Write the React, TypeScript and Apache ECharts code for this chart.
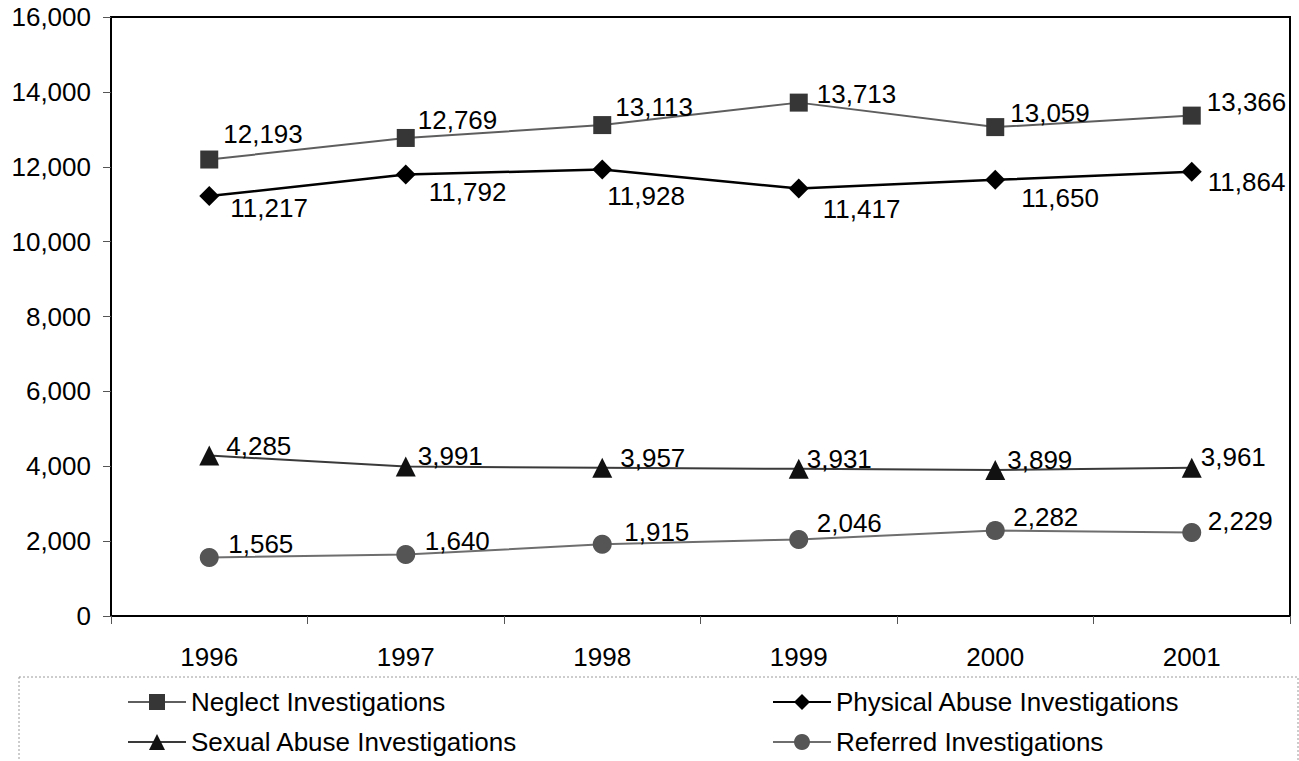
import React, { useEffect, useRef } from "react";
import * as echarts from "echarts";

const years = ["1996", "1997", "1998", "1999", "2000", "2001"];
const neglect = [12193, 12769, 13113, 13713, 13059, 13366];
const physical = [11217, 11792, 11928, 11417, 11650, 11864];
const sexual = [4285, 3991, 3957, 3931, 3899, 3961];
const referred = [1565, 1640, 1915, 2046, 2282, 2229];

// label offsets from the point centre (dx, dy) in pixels
const neglectOff = [[14, -26], [12, -18], [13, -18], [18, -9], [15, -14], [15, -14]];
const physicalOff = [[21, 12], [23, 17], [5, 27], [24, 20], [26, 18], [16, 10]];
const sexualOff = [[17, -10], [12, -11], [18, -10], [8, -10], [12, -10], [9, -11]];
const referredOff = [[19, -13], [19, -14], [22, -12], [18, -16], [18, -14], [16, -12]];

const FONT = "'Liberation Sans', Arial, sans-serif";
const fmt = (v: number) => v.toLocaleString("en-US");

function buildData(vals: number[], offs: number[][], half: number) {
  return vals.map((v, i) => ({
    value: v,
    label: { offset: [offs[i][0] - half, offs[i][1]] },
  }));
}

function legendItem(name: string, left: number, top: number) {
  return {
    data: [name],
    orient: "horizontal",
    left,
    top,
    padding: 0,
    itemWidth: 58,
    itemHeight: 20,
    itemGap: 0,
    textStyle: { color: "#000", fontSize: 26, fontFamily: FONT },
  };
}

export default function App() {
  const ref = useRef<HTMLDivElement>(null);
  useEffect(() => {
    if (!ref.current) return;
    const chart = echarts.init(ref.current, undefined, { renderer: "svg" });
    const labelBase = {
      show: true,
      position: "right" as const,
      distance: 0,
      color: "#000",
      fontSize: 26,
      fontFamily: FONT,
      formatter: (p: any) => fmt(p.value),
    };
    chart.setOption({
      animation: false,
      backgroundColor: "#fff",
      textStyle: { fontFamily: FONT },
      grid: {
        left: 111,
        top: 17,
        width: 1179,
        height: 599,
        show: true,
        borderColor: "#000",
        borderWidth: 2,
        backgroundColor: "transparent",
      },
      xAxis: {
        type: "category",
        data: years,
        boundaryGap: true,
        axisLine: { lineStyle: { color: "#000", width: 2 } },
        axisTick: { show: true, length: 8, lineStyle: { color: "#555", width: 1 } },
        axisLabel: { color: "#000", fontSize: 26, fontFamily: FONT, margin: 28 },
        splitLine: { show: false },
      },
      yAxis: {
        type: "value",
        min: 0,
        max: 16000,
        interval: 2000,
        axisLine: { show: true, lineStyle: { color: "#000", width: 2 } },
        axisTick: { show: true, length: 8, lineStyle: { color: "#555", width: 1 } },
        axisLabel: {
          color: "#000",
          fontSize: 26,
          fontFamily: FONT,
          margin: 20,
          formatter: (v: number) => fmt(v),
        },
        splitLine: { show: false },
      },
      legend: [
        legendItem("Neglect Investigations", 127, 689),
        legendItem("Sexual Abuse Investigations", 127, 729),
        legendItem("Physical Abuse Investigations", 772, 689),
        legendItem("Referred Investigations", 772, 729),
      ],
      graphic: [
        {
          type: "rect",
          z: -1,
          shape: { x: 19, y: 677, width: 1279, height: 100 },
          style: { fill: "none", stroke: "#9a9a9a", lineWidth: 1, lineDash: [2, 2] },
        },
      ],
      series: [
        {
          name: "Neglect Investigations",
          type: "line",
          data: buildData(neglect, neglectOff, 9),
          symbol: "rect",
          symbolSize: 18,
          itemStyle: { color: "#363636" },
          lineStyle: { color: "#5e5e5e", width: 2 },
          label: labelBase,
        },
        {
          name: "Physical Abuse Investigations",
          type: "line",
          data: buildData(physical, physicalOff, 10),
          symbol: "diamond",
          symbolSize: 20,
          itemStyle: { color: "#000" },
          lineStyle: { color: "#000", width: 2.5 },
          label: labelBase,
        },
        {
          name: "Sexual Abuse Investigations",
          type: "line",
          data: buildData(sexual, sexualOff, 10),
          symbol: "triangle",
          symbolSize: 20,
          itemStyle: { color: "#111" },
          lineStyle: { color: "#3a3a3a", width: 2 },
          label: labelBase,
        },
        {
          name: "Referred Investigations",
          type: "line",
          data: buildData(referred, referredOff, 9.5),
          symbol: "circle",
          symbolSize: 19,
          itemStyle: { color: "#555" },
          lineStyle: { color: "#6e6e6e", width: 2 },
          label: labelBase,
        },
      ],
    });
    return () => chart.dispose();
  }, []);
  return (
    <div
      ref={ref}
      style={{ position: "fixed", left: 0, top: 0, width: 1299, height: 761, background: "#fff" }}
    />
  );
}
